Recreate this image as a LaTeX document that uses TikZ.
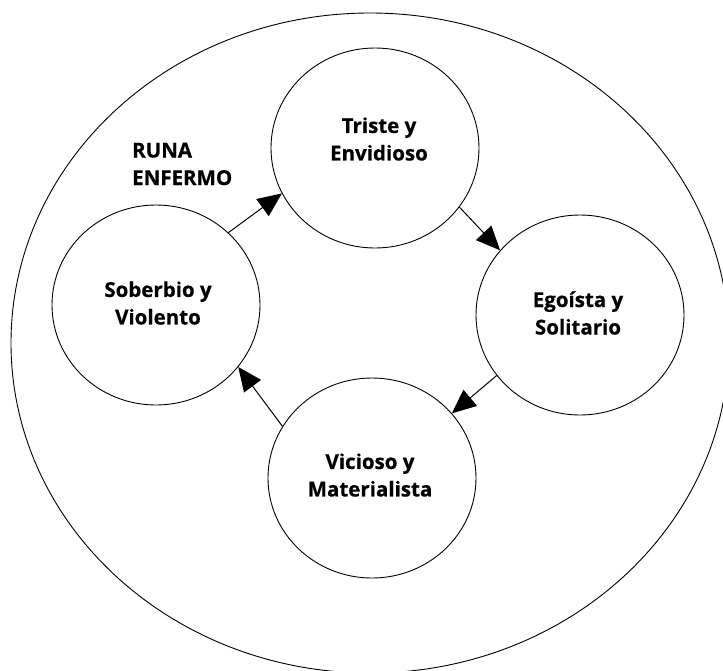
\documentclass[tikz,border=0pt]{standalone}
\usepackage{fontspec}
\setmainfont{Open Sans}
\newfontfamily\labelfont[FakeBold=0.6]{Open Sans}
\usetikzlibrary{arrows.meta,shapes.geometric}
\begin{document}
\begin{tikzpicture}[x=1pt,y=-1pt,
  ring/.style={draw, line width=0.9pt, ellipse, minimum width=208pt, minimum height=200pt, inner sep=0pt},
  word/.style={font=\labelfont\bfseries\fontsize{20.5}{27.5}\selectfont, align=center, inner sep=0pt},
  flow/.style={line width=1pt, -{Triangle[length=24pt,width=21pt]}}]
\clip (0,0) rectangle (723,670);
% outer boundary
\node[draw, line width=0.9pt, ellipse, minimum width=718pt, minimum height=660pt, inner sep=0pt] (world) at (370,343) {};
% the four states
\node[ring] (tristeC) at (375,148) {};
\node[ring] (egoC)    at (580,315) {};
\node[ring] (vicioC)  at (372,478) {};
\node[ring] (soberC)  at (156,305) {};
\node[word] (tristeT) at (379,139) {Triste y\\Envidioso};
\node[word] (egoT)    at (578,313) {Egoísta y\\Solitario};
\node[word] (vicioT)  at (370,475) {Vicioso y\\Materialista};
\node[word] (soberT)  at (158,303) {Soberbio y\\Violento};
\node[word, align=left, anchor=west] (runa) at (132,164) {RUNA\\ENFERMO};
% cycle
\draw[flow] (soberC.45)  -- (tristeC.206);
\draw[flow] (tristeC.-35) -- (egoC.141);
\draw[flow] (egoC.216)   -- (vicioC.39);
\draw[flow] (vicioC.150) -- (soberC.-37);
\end{tikzpicture}
\end{document}
